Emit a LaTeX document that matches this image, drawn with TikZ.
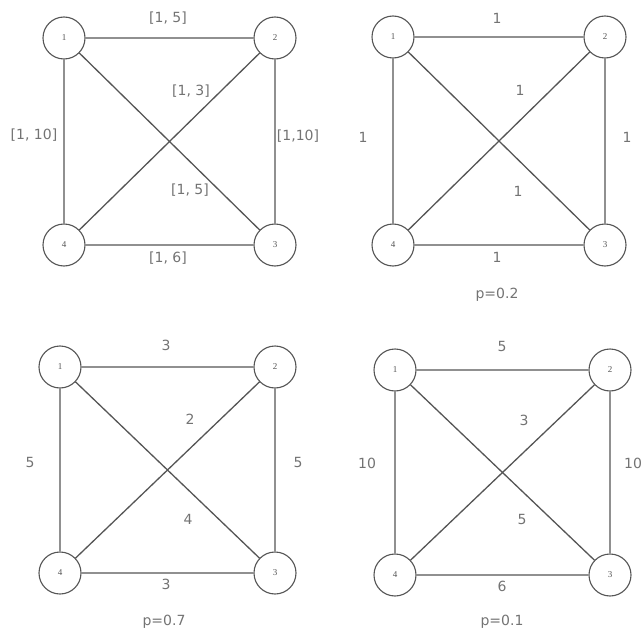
\documentclass[tikz,border=0pt]{standalone}
\usepackage{fontspec}
\setmainfont{DejaVu Sans}
\newfontfamily\numfont{Liberation Serif}
\usetikzlibrary{positioning}
\definecolor{edgegray}{RGB}{85,85,85}
\definecolor{labelgray}{RGB}{115,115,115}

\begin{document}
\begin{tikzpicture}[x=1pt, y=-1pt,
    vertex/.style={circle, draw=edgegray, line width=1.1pt, fill=white,
        minimum size=42pt, inner sep=0pt, text=edgegray,
        font=\numfont\fontsize{9}{10}\selectfont},
    wlabel/.style={text=labelgray, inner sep=1pt,
        font=\fontsize{14}{16}\selectfont},
    edge/.style={draw=edgegray, line width=1.3pt}]
    \useasboundingbox (0,0) rectangle (643,634);
    % Four copies of the graph: name / x / y / width / height
    \foreach \g/\x/\y/\w/\h in {a/64/38/211/207, b/393/37/212/208,
                                c/60/367/215/206, d/395/370/215/205} {
        \node[vertex] (\g1) at (\x,\y) {1};
        \node[vertex] (\g2) at (\x+\w,\y) {2};
        \node[vertex] (\g3) at (\x+\w,\y+\h) {3};
        \node[vertex] (\g4) at (\x,\y+\h) {4};
        \draw[edge] (\g1) -- (\g2) (\g1) -- (\g4) (\g2) -- (\g3)
            (\g4) -- (\g3) (\g1) -- (\g3) (\g2) -- (\g4);
    }
    % Intervals
    \node[wlabel] (a12) at (168,18) {[1, 5]};
    \node[wlabel] (a24) at (191,91) {[1, 3]};
    \node[wlabel] (a14) at (34,135) {[1, 10]};
    \node[wlabel] (a23) at (298,136) {[1,10]};
    \node[wlabel] (a13) at (190,190) {[1, 5]};
    \node[wlabel] (a43) at (168,258) {[1, 6]};
    % p = 0.2
    \node[wlabel] (b12) at (497,18) {1};
    \node[wlabel] (b24) at (520,90) {1};
    \node[wlabel] (b14) at (363,137) {1};
    \node[wlabel] (b23) at (627,137) {1};
    \node[wlabel] (b13) at (518,191) {1};
    \node[wlabel] (b43) at (497,257) {1};
    \node[wlabel] (bp) at (497,295) {p=0.2};
    % p = 0.7
    \node[wlabel] (c12) at (166,345) {3};
    \node[wlabel] (c24) at (190,419) {2};
    \node[wlabel] (c14) at (30,462) {5};
    \node[wlabel] (c23) at (298,462) {5};
    \node[wlabel] (c13) at (188,519) {4};
    \node[wlabel] (c43) at (166,584) {3};
    \node[wlabel] (cp) at (164,622) {p=0.7};
    % p = 0.1
    \node[wlabel] (d12) at (502,346) {5};
    \node[wlabel] (d24) at (524,420) {3};
    \node[wlabel] (d14) at (367,463) {10};
    \node[wlabel] (d23) at (633,463) {10};
    \node[wlabel] (d13) at (522,519) {5};
    \node[wlabel] (d43) at (502,586) {6};
    \node[wlabel] (dp) at (502,622) {p=0.1};
\end{tikzpicture}
\end{document}
